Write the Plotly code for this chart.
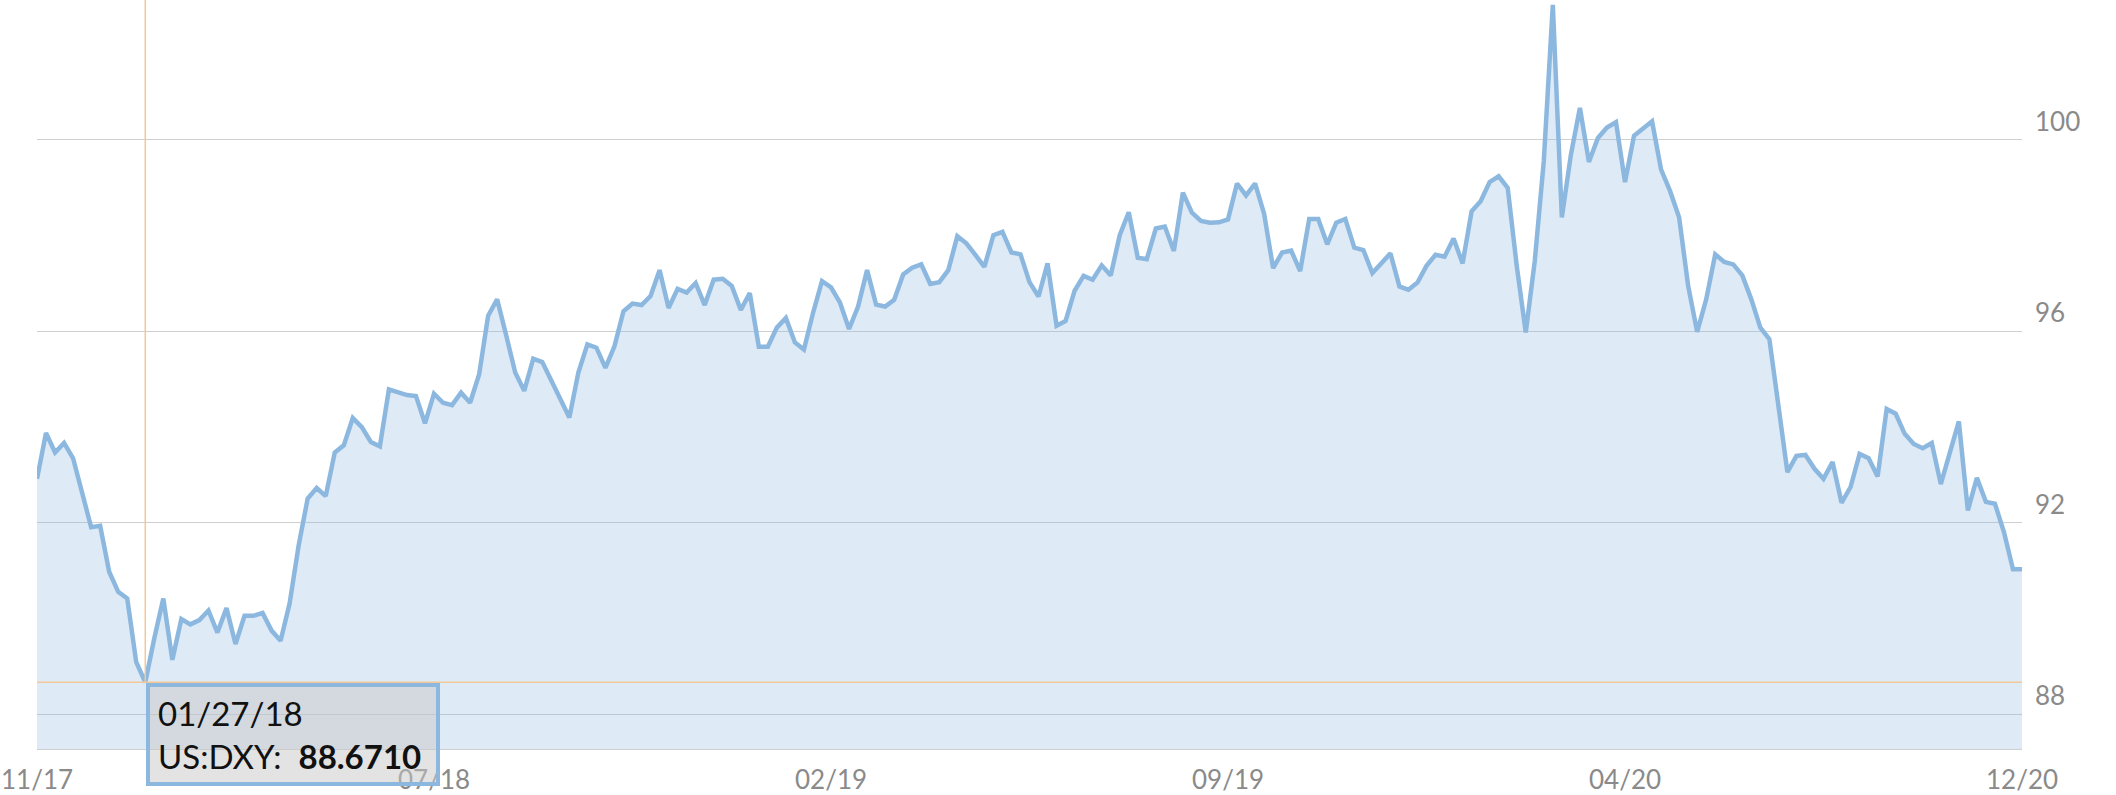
import plotly.graph_objects as go

dxy_values = [
    92.92, 93.88, 93.47, 93.67, 93.35, 92.65, 91.91, 91.94, 90.98, 90.56,
    90.42, 89.09, 88.671, 89.59, 90.42, 89.14, 89.99, 89.88, 89.97, 90.17,
    89.71, 90.22, 89.47, 90.06, 90.06, 90.12, 89.75, 89.54, 90.32, 91.53,
    92.51, 92.73, 92.56, 93.47, 93.62, 94.19, 94.00, 93.69, 93.60, 94.79,
    94.74, 94.67, 94.65, 94.08, 94.70, 94.51, 94.46, 94.72, 94.51, 95.10,
    96.33, 96.67, 95.92, 95.14, 94.76, 95.43, 95.36, 94.97, 94.58, 94.20,
    95.14, 95.73, 95.66, 95.24, 95.69, 96.42, 96.58, 96.55, 96.74, 97.28,
    96.49, 96.89, 96.81, 97.01, 96.55, 97.08, 97.10, 96.95, 96.45, 96.80,
    95.68, 95.68, 96.08, 96.28, 95.77, 95.62, 96.38, 97.05, 96.92, 96.60,
    96.05, 96.52, 97.28, 96.56, 96.52, 96.66, 97.19, 97.33, 97.40, 96.99,
    97.03, 97.28, 97.99, 97.84, 97.60, 97.35, 98.01, 98.08, 97.65, 97.61,
    97.03, 96.73, 97.42, 96.12, 96.22, 96.85, 97.16, 97.08, 97.38, 97.17,
    98.01, 98.49, 97.54, 97.51, 98.15, 98.19, 97.68, 98.90, 98.48, 98.31,
    98.27, 98.28, 98.34, 99.09, 98.84, 99.09, 98.46, 97.32, 97.65, 97.69,
    97.26, 98.35, 98.35, 97.82, 98.27, 98.35, 97.75, 97.70, 97.22, 97.42,
    97.63, 96.94, 96.87, 97.02, 97.37, 97.60, 97.56, 97.94, 97.42, 98.51,
    98.72, 99.12, 99.24, 99.00, 97.37, 95.98, 97.47, 99.56, 102.82, 98.38,
    99.69, 100.67, 99.54, 100.04, 100.26, 100.37, 99.12, 100.09, 100.23, 100.39,
    99.38, 98.93, 98.38, 96.95, 95.99, 96.67, 97.61, 97.45, 97.40, 97.17,
    96.67, 96.08, 95.84, 94.42, 93.06, 93.40, 93.42, 93.13, 92.92, 93.27,
    92.42, 92.75, 93.44, 93.35, 92.97, 94.38, 94.28, 93.86, 93.65, 93.56,
    93.67, 92.81, 93.44, 94.12, 92.26, 92.94, 92.44, 92.40, 91.81, 91.03,
    91.03,
]

# x-axis labels and the sample index they sit on
tick_labels = ["11/17", "07/18", "02/19", "09/19", "04/20", "12/20"]
tick_index = [0, 44, 88, 132, 176, 220]

# highlighted (hovered) sample
hover_index = 12
hover_date = "01/27/18"
hover_name = "US:DXY"

Y_MIN, Y_MAX = 87.277, 102.923
FONT = "Lato"
LINE = "#8cb8e0"
FILL = "rgba(140,184,224,0.29)"
GRID = "#cfcfcf"
LABEL = "#8a8a8a"
CROSS = "#f3c898"

hover_value = dxy_values[hover_index]

fig = go.Figure()
fig.add_trace(go.Scatter(
    y=dxy_values,
    mode="lines",
    line=dict(color=LINE, width=4.5),
    fill="tozeroy",
    fillcolor=FILL,
    hoverinfo="skip",
    showlegend=False,
))

# crosshair
fig.add_shape(type="line", xref="x", yref="y",
              x0=hover_index, x1=hover_index, y0=hover_value, y1=Y_MAX,
              line=dict(color=CROSS, width=1.5), layer="above")
fig.add_shape(type="line", xref="x domain", yref="y",
              x0=0, x1=1, y0=hover_value, y1=hover_value,
              line=dict(color=CROSS, width=1.5), layer="above")

# tooltip box
fig.add_annotation(
    x=hover_index, y=hover_value, xref="x", yref="y",
    xanchor="left", yanchor="top", xshift=1, yshift=-1,
    showarrow=False, align="left", valign="middle",
    text=f"{hover_date}<br>{hover_name}:  <b>{hover_value:.4f}</b>",
    font=dict(family=FONT, size=33, color="#111111"),
    bgcolor="rgba(200,200,200,0.5)",
    bordercolor=LINE, borderwidth=4, borderpad=8,
    width=270, height=79,
)

fig.update_layout(
    width=2116, height=795,
    margin=dict(l=37, r=94, t=0, b=44, pad=0),
    paper_bgcolor="white", plot_bgcolor="white",
    showlegend=False,
    hovermode=False,
    xaxis=dict(
        range=[0, len(dxy_values) - 1],
        tickmode="array", tickvals=tick_index, ticktext=tick_labels,
        showgrid=False, zeroline=False,
        showline=True, linecolor=GRID, linewidth=1,
        ticks="", ticklabelstandoff=8,
        tickfont=dict(family=FONT, size=26, color=LABEL),
    ),
    yaxis=dict(
        range=[Y_MIN, Y_MAX], side="right",
        tick0=0, dtick=4,
        showgrid=True, gridcolor=GRID, gridwidth=1,
        zeroline=False, showline=False, ticks="",
        ticklabelposition="outside top",
        ticklabelstandoff=12,
        tickfont=dict(family=FONT, size=26, color=LABEL),
    ),
)

fig.write_html("out.html",
               config={"displayModeBar": False},
               post_script="document.body.style.margin='0';")
